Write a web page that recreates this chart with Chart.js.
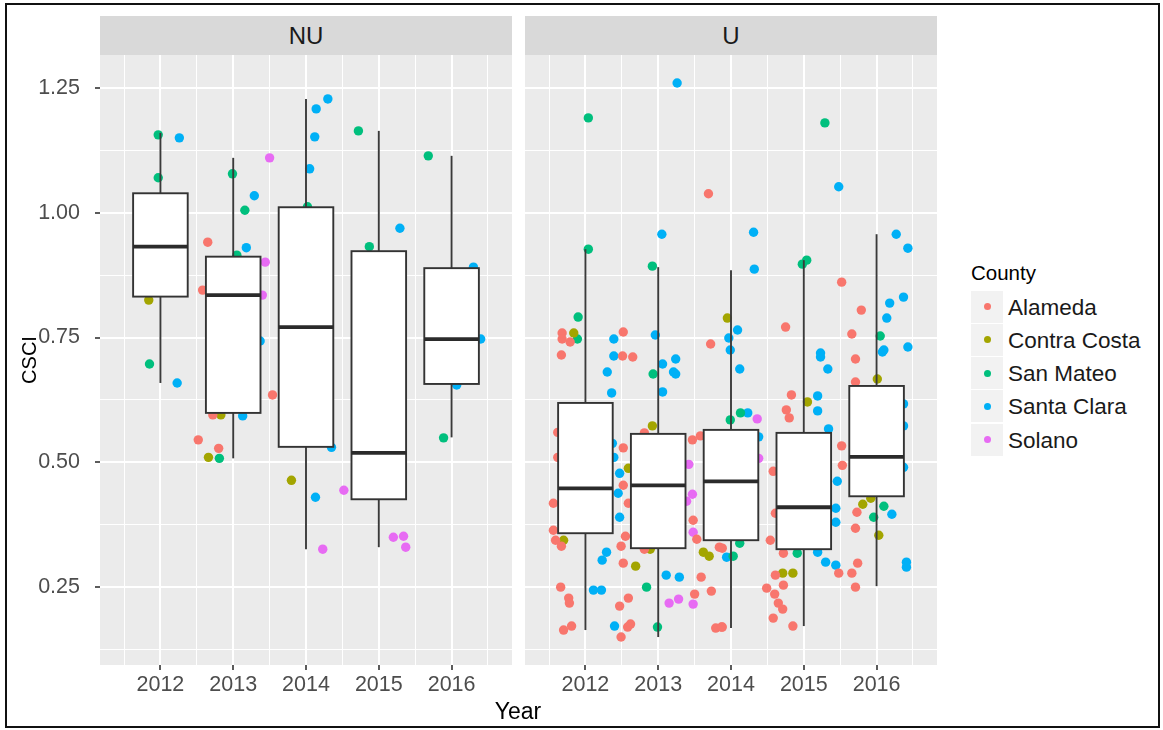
<!DOCTYPE html>
<html><head><meta charset="utf-8">
<script src="https://cdn.jsdelivr.net/npm/chart.js@4.4.1/dist/chart.umd.min.js"></script>
<style>
html,body{margin:0;padding:0;background:#fff;}
body{width:1163px;height:730px;position:relative;overflow:hidden;font-family:'Liberation Sans',Arial,Helvetica,sans-serif;}
#frame{position:absolute;left:5px;top:3px;width:1155px;height:725px;border:2px solid #111;box-sizing:border-box;pointer-events:none;z-index:5}
canvas{position:absolute;top:0}
#cNU{left:0}
#cU{left:517px}
.strip{position:absolute;top:16px;height:39px;background:#D9D9D9;color:#1A1A1A;font-size:24px;line-height:40px;text-align:center}
#xtitle{position:absolute;left:418px;width:200px;top:698px;text-align:center;font-size:23px;line-height:26px;color:#000}
#legend{position:absolute;left:971px;top:0}
.ltitle{position:absolute;left:0;top:261px;font-size:20.5px;line-height:24px;color:#000;white-space:nowrap}
.item{position:absolute;left:0;height:33px;white-space:nowrap}
.key{position:absolute;left:0;top:0;width:32px;height:32px;background:#F2F2F2}
.dot{position:absolute;left:12.5px;top:12.5px;width:7px;height:7px;border-radius:50%}
.lab{position:absolute;left:37px;top:0;font-size:22.5px;line-height:33px;color:#1A1A1A}
</style></head>
<body>
<div id="frame"></div>
<canvas id="cNU" width="520" height="730"></canvas>
<canvas id="cU" width="430" height="730"></canvas>
<div class="strip" id="sNU" style="left:100px;width:412px">NU</div>
<div class="strip" id="sU" style="left:525px;width:412px">U</div>
<div id="xtitle">Year</div>
<div id="legend"></div>
<script>
// ---------- categories / labels ----------
const years = [2012, 2013, 2014, 2015, 2016];
const yearLabels = ['2012', '2013', '2014', '2015', '2016'];
const panels = ['NU', 'U'];
const counties = ['Alameda', 'Contra Costa', 'San Mateo', 'Santa Clara', 'Solano'];
const countyColors = ['#F8766D', '#A3A500', '#00BF7D', '#00B0F6', '#E76BF3'];
const yTickValues = [0.25, 0.5, 0.75, 1.0, 1.25];
const yTickLabels = ['0.25', '0.50', '0.75', '1.00', '1.25'];
const yMinorValues = [0.125, 0.375, 0.625, 0.875, 1.125];

// ---------- box statistics (lower whisker, Q1, median, Q3, upper whisker) ----------
const nuLower  = [0.659, 0.508, 0.326, 0.330, 0.550];
const nuQ1     = [0.832, 0.599, 0.531, 0.426, 0.657];
const nuMedian = [0.932, 0.835, 0.771, 0.519, 0.747];
const nuQ3     = [1.039, 0.912, 1.011, 0.923, 0.889];
const nuUpper  = [1.160, 1.110, 1.228, 1.164, 1.114];

const uLower  = [0.164, 0.150, 0.168, 0.172, 0.252];
const uQ1     = [0.358, 0.328, 0.344, 0.326, 0.432];
const uMedian = [0.448, 0.454, 0.462, 0.410, 0.511];
const uQ3     = [0.619, 0.557, 0.565, 0.559, 0.653];
const uUpper  = [0.927, 0.891, 0.885, 0.905, 0.957];

// ---------- jittered observations [year (jittered), CSCI] ----------
const nuAlameda = [[2012.65,0.941],[2012.58,0.845],[2013.54,0.635],[2012.72,0.595],[2012.52,0.545],[2012.80,0.528]];
const nuContraCosta = [[2011.84,0.825],[2012.83,0.595],[2012.66,0.510],[2013.80,0.464]];
const nuSanMateo = [[2011.97,1.156],[2011.97,1.070],[2011.85,0.697],[2012.99,1.078],[2013.16,1.005],[2013.05,0.915],[2012.81,0.508],[2014.02,1.012],[2014.72,1.164],[2014.87,0.932],[2015.68,1.114],[2015.89,0.549]];
const nuSantaClara = [[2012.26,1.150],[2012.23,0.659],[2013.29,1.034],[2013.18,0.930],[2013.37,0.743],[2013.13,0.593],[2014.30,1.228],[2014.14,1.208],[2014.12,1.152],[2014.05,1.088],[2014.35,0.530],[2014.13,0.430],[2015.29,0.969],[2016.30,0.891],[2016.40,0.747],[2016.07,0.655]];
const nuSolano = [[2013.50,1.110],[2013.44,0.901],[2013.40,0.835],[2014.52,0.444],[2014.23,0.326],[2015.20,0.350],[2015.34,0.352],[2015.37,0.330]];

const uAlameda = [[2011.68,0.759],[2011.68,0.747],[2011.79,0.741],[2012.52,0.761],[2013.72,0.737],[2011.67,0.715],[2012.51,0.713],[2012.65,0.711],[2013.69,1.038],[2011.62,0.560],[2012.81,0.559],[2012.52,0.529],[2013.47,0.545],[2013.58,0.553],[2011.62,0.510],[2012.52,0.454],[2011.56,0.418],[2012.59,0.418],[2013.48,0.384],[2011.56,0.364],[2011.59,0.344],[2011.67,0.332],[2012.55,0.352],[2012.49,0.332],[2012.81,0.326],[2013.53,0.346],[2013.84,0.330],[2012.52,0.298],[2013.59,0.270],[2011.66,0.250],[2012.59,0.228],[2012.47,0.212],[2011.77,0.228],[2011.78,0.218],[2013.50,0.236],[2013.73,0.242],[2012.62,0.176],[2012.58,0.170],[2011.70,0.164],[2011.81,0.172],[2012.49,0.150],[2013.79,0.168],[2013.87,0.170],[2015.52,0.861],[2014.75,0.771],[2015.79,0.805],[2015.66,0.757],[2013.88,0.328],[2013.88,0.170],[2014.83,0.635],[2014.76,0.605],[2014.80,0.589],[2014.58,0.482],[2014.61,0.398],[2014.54,0.344],[2014.72,0.318],[2014.61,0.274],[2014.72,0.254],[2014.49,0.248],[2014.60,0.236],[2014.65,0.218],[2014.71,0.206],[2014.58,0.188],[2014.85,0.172],[2015.48,0.278],[2015.66,0.278],[2015.74,0.298],[2015.71,0.250],[2015.52,0.533],[2015.53,0.494],[2015.71,0.707],[2015.71,0.661],[2015.73,0.400],[2015.71,0.368]];
const uContraCosta = [[2011.84,0.759],[2013.95,0.789],[2012.92,0.573],[2012.59,0.488],[2011.70,0.344],[2012.89,0.326],[2013.62,0.320],[2013.70,0.312],[2012.69,0.292],[2015.05,0.621],[2014.71,0.278],[2014.85,0.278],[2016.01,0.667],[2015.81,0.416],[2015.92,0.428],[2016.03,0.354]];
const uSanMateo = [[2012.04,1.190],[2012.04,0.927],[2012.92,0.893],[2011.90,0.791],[2011.89,0.747],[2012.93,0.677],[2012.84,0.250],[2012.99,0.170],[2015.29,1.180],[2014.98,0.897],[2015.04,0.905],[2016.05,0.753],[2014.13,0.599],[2013.99,0.585],[2014.03,0.312],[2014.12,0.338],[2014.91,0.318],[2016.10,0.412],[2015.96,0.390]];
const uSantaClara = [[2013.26,1.260],[2013.05,0.957],[2012.39,0.747],[2012.96,0.755],[2013.97,0.749],[2012.39,0.713],[2012.30,0.681],[2013.06,0.697],[2013.24,0.707],[2013.21,0.681],[2013.24,0.677],[2013.06,0.641],[2012.36,0.639],[2012.37,0.538],[2012.39,0.510],[2012.47,0.478],[2012.45,0.438],[2012.47,0.390],[2013.94,0.310],[2012.29,0.320],[2012.23,0.304],[2013.11,0.274],[2013.29,0.270],[2012.11,0.244],[2012.22,0.244],[2012.40,0.172],[2015.48,1.052],[2014.31,0.961],[2014.32,0.887],[2016.27,0.957],[2016.43,0.929],[2016.18,0.819],[2016.37,0.831],[2016.14,0.789],[2014.09,0.765],[2013.99,0.725],[2015.23,0.719],[2015.23,0.711],[2016.10,0.725],[2016.43,0.731],[2014.12,0.687],[2014.23,0.599],[2014.38,0.551],[2015.33,0.687],[2015.19,0.633],[2015.19,0.603],[2015.34,0.567],[2015.46,0.462],[2015.44,0.408],[2015.44,0.380],[2015.19,0.320],[2015.30,0.300],[2015.44,0.294],[2016.08,0.721],[2016.37,0.617],[2016.37,0.573],[2016.37,0.490],[2016.21,0.396],[2016.41,0.300],[2016.41,0.290]];
const uSolano = [[2013.42,0.496],[2013.47,0.436],[2013.39,0.422],[2013.48,0.360],[2013.15,0.218],[2013.28,0.226],[2013.48,0.216],[2014.36,0.587],[2014.38,0.508]];

// ---------- assemble ----------
const xExpand = 0.83, boxHalf = 0.375;
const xMin = years[0] - xExpand, xMax = years[years.length - 1] + xExpand;
const yMin = 0.094, yMax = 1.316;
const xGridValues = years.map(y => y - 0.5).concat([years[years.length - 1] + 0.5]).concat(years).sort((a, b) => a - b);
const yGridValues = yMinorValues.concat(yTickValues).sort((a, b) => a - b);
const isYMajor = v => yTickValues.some(t => Math.abs(t - v) < 1e-9);
const isXMajor = v => years.indexOf(v) >= 0;

const FONT = "'Liberation Sans', Arial, Helvetica, sans-serif";
Chart.defaults.font.family = FONT;

function boxPlugin(st) {
  return {
    id: 'ggbox',
    beforeDraw(chart) {
      const a = chart.chartArea, c = chart.ctx;
      c.save(); c.fillStyle = '#EBEBEB';
      c.fillRect(a.left, a.top, a.right - a.left, a.bottom - a.top);
      c.restore();
    },
    afterDatasetsDraw(chart) {
      const xs = chart.scales.x, ys = chart.scales.y, c = chart.ctx;
      c.save();
      const line = (x1, y1, x2, y2) => { c.beginPath(); c.moveTo(x1, y1); c.lineTo(x2, y2); c.stroke(); };
      years.forEach((yr, i) => {
        const xl = xs.getPixelForValue(yr - boxHalf), xr = xs.getPixelForValue(yr + boxHalf), xc = xs.getPixelForValue(yr);
        const pLo = ys.getPixelForValue(st.lower[i]), pQ1 = ys.getPixelForValue(st.q1[i]);
        const pMd = ys.getPixelForValue(st.median[i]), pQ3 = ys.getPixelForValue(st.q3[i]);
        const pHi = ys.getPixelForValue(st.upper[i]);
        c.strokeStyle = '#3a3a3a'; c.lineWidth = 1.9;
        line(xc, pHi, xc, pQ3); line(xc, pQ1, xc, pLo);
        c.fillStyle = '#FFFFFF';
        c.fillRect(xl, pQ3, xr - xl, pQ1 - pQ3);
        c.strokeStyle = '#333333'; c.lineWidth = 1.9;
        c.strokeRect(xl, pQ3, xr - xl, pQ1 - pQ3);
        c.lineWidth = 3.8; c.strokeStyle = '#2b2b2b';
        line(xl, pMd, xr, pMd);
      });
      c.restore();
    }
  };
}

function makePanel(id, pointSets, st, showY) {
  const datasets = counties.map((name, k) => ({
    label: name,
    data: pointSets[k].map(p => ({ x: p[0], y: p[1] })),
    backgroundColor: countyColors[k],
    borderWidth: 0,
    pointRadius: 4.7,
    pointHoverRadius: 4.7
  }));
  return new Chart(document.getElementById(id), {
    type: 'scatter',
    data: { datasets },
    plugins: [boxPlugin(st)],
    options: {
      responsive: false, animation: false, devicePixelRatio: 1,
      events: [],
      layout: { padding: showY ? { left: 0, top: 55, right: 8, bottom: 0 } : { left: 8, top: 55, right: 10, bottom: 0 } },
      plugins: { legend: { display: false }, tooltip: { enabled: false } },
      scales: {
        x: {
          type: 'linear', min: xMin, max: xMax,
          afterBuildTicks: s => { s.ticks = xGridValues.map(v => ({ value: v })); },
          afterFit: s => { s.height = 65; },
          border: { display: false },
          grid: {
            color: '#FFFFFF',
            lineWidth: ctx => isXMajor(ctx.tick.value) ? 2 : 1,
            tickLength: 5,
            tickWidth: 1.6,
            tickColor: ctx => isXMajor(ctx.tick.value) ? '#333333' : 'rgba(0,0,0,0)'
          },
          ticks: {
            autoSkip: false, maxRotation: 0, padding: 2,
            color: '#4D4D4D', font: { size: 21.5, family: FONT },
            callback: v => { const i = years.indexOf(v); return i >= 0 ? yearLabels[i] : ''; }
          }
        },
        y: {
          type: 'linear', min: yMin, max: yMax,
          afterBuildTicks: s => { s.ticks = yGridValues.map(v => ({ value: v })); },
          afterFit: s => { s.width = showY ? 100 : 0; },
          border: { display: false },
          title: showY ? { display: true, text: 'CSCI', color: '#000', font: { size: 20, family: FONT }, padding: { top: 18, bottom: 0 } } : { display: false },
          grid: {
            color: '#FFFFFF',
            lineWidth: ctx => isYMajor(ctx.tick.value) ? 2 : 1,
            drawTicks: showY,
            tickLength: 5,
            tickWidth: 1.6,
            tickColor: ctx => isYMajor(ctx.tick.value) ? '#333333' : 'rgba(0,0,0,0)'
          },
          ticks: {
            display: showY, autoSkip: false, padding: 15,
            color: '#4D4D4D', font: { size: 21.5, family: FONT },
            callback: v => { const i = yTickValues.findIndex(t => Math.abs(t - v) < 1e-9); return i >= 0 ? yTickLabels[i] : ''; }
          }
        }
      }
    }
  });
}

makePanel('cNU', [nuAlameda, nuContraCosta, nuSanMateo, nuSantaClara, nuSolano],
  { lower: nuLower, q1: nuQ1, median: nuMedian, q3: nuQ3, upper: nuUpper }, true);
makePanel('cU', [uAlameda, uContraCosta, uSanMateo, uSantaClara, uSolano],
  { lower: uLower, q1: uQ1, median: uMedian, q3: uQ3, upper: uUpper }, false);

// legend
const lg = document.getElementById('legend');
const t = document.createElement('div'); t.className = 'ltitle'; t.textContent = 'County'; lg.appendChild(t);
counties.forEach((name, k) => {
  const it = document.createElement('div'); it.className = 'item';
  it.style.top = (290.5 + k * 33.3) + 'px';
  const key = document.createElement('span'); key.className = 'key';
  const dot = document.createElement('span'); dot.className = 'dot'; dot.style.background = countyColors[k];
  key.appendChild(dot); it.appendChild(key);
  const lab = document.createElement('span'); lab.className = 'lab'; lab.textContent = name; it.appendChild(lab);
  lg.appendChild(it);
});
</script>
</body></html>
